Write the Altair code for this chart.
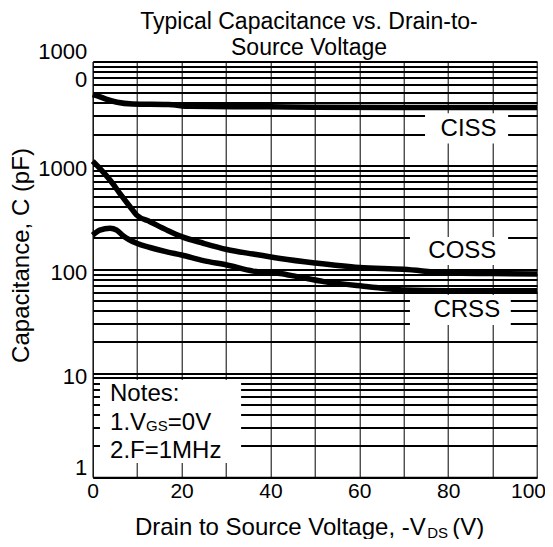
import altair as alt
import pandas as pd

FONT = "Liberation Sans"

# ---- curves (x = -VDS in V, y = capacitance in pF) ----
ciss_x = [0, 1.5, 3, 5.5, 9, 17, 22, 40, 50, 70, 100]
ciss_y = [4800, 4600, 4350, 4050, 3900, 3850, 3700, 3660, 3620, 3600, 3600]
coss_x = [0, 1.6, 3.9, 6.1, 8.4, 9.9, 12.9, 16.7, 20, 24.9, 30.2, 36.1, 42.2, 50, 60, 70, 80, 90, 100]
coss_y = [1100, 936, 722, 538, 400, 332, 287, 238, 206, 178, 155, 140, 127, 115, 104, 100, 92, 91, 90]
crss_x = [0, 1.6, 3.9, 5.4, 6.9, 9.9, 12.9, 16.7, 20, 24.9, 30.2, 36.1, 42.2, 46, 52, 62, 70, 80, 90, 100]
crss_y = [213, 238, 248, 238, 209, 178, 162, 147, 137, 121, 110, 96, 91, 85, 76, 68, 63, 62, 62, 62]

# ---- title ----
title_lines = ["Typical Capacitance vs. Drain-to-", "Source Voltage"]

# ---- series labels (in white boxes) ----
label_names = ["CISS", "COSS", "CRSS"]
label_x = [84.6, 83.2, 84.2]
label_y = [1914, 127.4, 34.9]

# ---- white boxes (CISS, COSS, CRSS, Notes) ----
box_x0 = [74.8, 71.4, 71.4, 1.64]
box_x1 = [93.5, 93.5, 94.1, 33.4]
box_y0 = [1628, 109.7, 29.0, 1.364]
box_y1 = [3167, 204, 56.5, 8.58]

# ---- notes text ----
note_text = ["Notes:", "1.V", "=0V", "2.F=1MHz"]
note_x = [3.9, 3.9, 16.9, 3.9]
note_y = [5.39, 2.835, 2.835, 1.524]
note_sub_text = ["GS"]
note_sub_x = [12.0]
note_sub_y = [2.77]

# ---- axis ticks ----
x_ticks = [0, 10, 20, 30, 40, 50, 60, 70, 80, 90, 100]
decades = [1, 10, 100, 1000]
mults = [1, 2, 3, 4, 5, 6, 7, 8, 9]
y_ticks = [d * m for d in decades for m in mults] + [10000]

# ---- x axis title pieces ----
xt_text = ["Drain to Source Voltage, -V", "(V)"]
xt_x = [9.5, 80.9]
xt_sub_text = ["DS"]
xt_sub_x = [75.3]

rows = []
for name, xs, ys in [("CISS", ciss_x, ciss_y), ("COSS", coss_x, coss_y), ("CRSS", crss_x, crss_y)]:
    for a, b in zip(xs, ys):
        rows.append({"series": name, "x": a, "y": b})
curves = pd.DataFrame(rows)

xscale = alt.Scale(domain=[0, 100], nice=False, zero=False)
yscale = alt.Scale(type="log", domain=[1, 10000], nice=False)

x_axis = alt.Axis(
    values=x_ticks,
    labelExpr="datum.value % 20 == 0 ? datum.label : ''",
    title=None, grid=True, gridColor="#000", gridWidth=1, gridOpacity=1,
    ticks=False, tickSize=0, labelPadding=3, labelFontSize=21, labelFlush=False,
    labelOverlap=False, domainColor="#000", domainWidth=1.5,
    labelOffset={"condition": {"test": "datum.value == 100", "value": -9}, "value": 0},
)
y_axis = alt.Axis(
    values=y_ticks,
    labelExpr="datum.value == 10000 ? ['1000', '0'] : (indexof([1, 10, 100, 1000], datum.value) >= 0 ? format(datum.value, 'd') : '')",
    title="Capacitance, C (pF)", titleFontSize=24, titleFontWeight="normal",
    titleX=-59, titleY=193.5,
    grid=True, gridColor="#000", gridWidth=2, gridOpacity=1,
    ticks=False, tickSize=0, labelPadding=6, labelFontSize=22, labelLineHeight=28,
    labelOverlap=False, labelFlush=False,
    labelOffset={"condition": {"test": "datum.value == 1 || datum.value == 10000", "value": -10}, "value": 3},
    domainColor="#000", domainWidth=1,
)

X = alt.X("x:Q", scale=xscale, axis=x_axis)
Y = alt.Y("y:Q", scale=yscale, axis=y_axis)

lines = alt.Chart(curves).mark_line(
    color="black", strokeWidth=5.5, interpolate="monotone"
).encode(x=X, y=Y, detail="series:N")

boxes_df = pd.DataFrame({"x": box_x0, "x1": box_x1, "y": box_y0, "y1": box_y1})
boxes = alt.Chart(boxes_df).mark_rect(fill="white", strokeWidth=0).encode(
    x=X, x2="x1:Q", y=Y, y2="y1:Q",
)

labels_df = pd.DataFrame({"t": label_names, "x": label_x, "y": label_y})
labels = alt.Chart(labels_df).mark_text(
    font=FONT, fontSize=24, align="center", baseline="alphabetic", color="black"
).encode(x=X, y=Y, text="t:N")

notes_df = pd.DataFrame({"t": note_text, "x": note_x, "y": note_y})
notes = alt.Chart(notes_df).mark_text(
    font=FONT, fontSize=24, align="left", baseline="alphabetic", color="black"
).encode(x=X, y=Y, text="t:N")

notes_sub_df = pd.DataFrame({"t": note_sub_text, "x": note_sub_x, "y": note_sub_y})
notes_sub = alt.Chart(notes_sub_df).mark_text(
    font=FONT, fontSize=15, align="left", baseline="alphabetic", color="black"
).encode(x=X, y=Y, text="t:N")

xt_df = pd.DataFrame({"t": xt_text, "x": xt_x})
xt = alt.Chart(xt_df).mark_text(
    font=FONT, fontSize=24, align="left", baseline="alphabetic", color="black"
).encode(x=X, y=alt.value(473), text="t:N")

xt_sub_df = pd.DataFrame({"t": xt_sub_text, "x": xt_sub_x})
xt_sub = alt.Chart(xt_sub_df).mark_text(
    font=FONT, fontSize=15, align="left", baseline="alphabetic", color="black"
).encode(x=X, y=alt.value(476), text="t:N")

title_df = pd.DataFrame({"k": [0]})
title_mark = alt.Chart(title_df).mark_text(
    text=title_lines, font=FONT, fontSize=23, align="center", baseline="alphabetic",
    lineHeight=26.5, color="black",
).encode(x=alt.value(216.3), y=alt.value(-33))

chart = alt.layer(lines, boxes, labels, notes, notes_sub, xt, xt_sub, title_mark).properties(
    width=444.3,
    height=415.5,
    autosize=alt.AutoSizeParams(type="none"),
    padding={"left": 84.7, "top": 53.5, "right": 8, "bottom": 62},
).configure_view(stroke=None).configure_axis(
    labelFont=FONT, titleFont=FONT, labelColor="black", titleColor="black"
)

chart.save("out.html", embed_options={"renderer": "svg", "actions": False})
